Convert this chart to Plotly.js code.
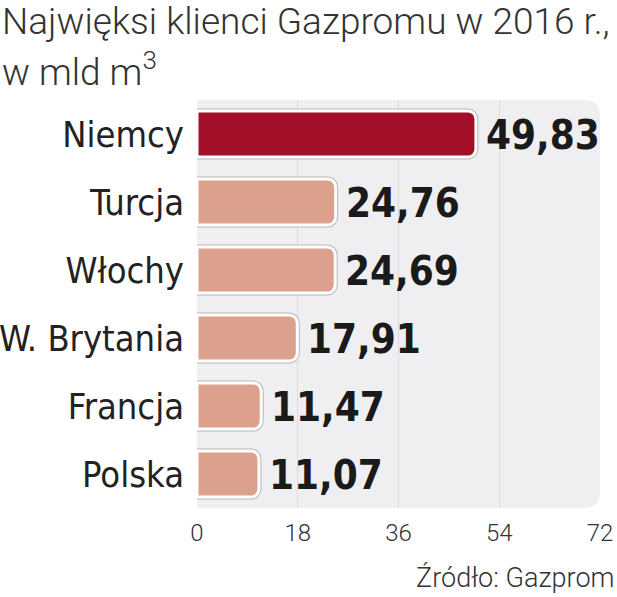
<!DOCTYPE html>
<html><head><meta charset="utf-8">
<script src="https://cdn.plot.ly/plotly-3.0.1.min.js"></script>
<style>body{margin:0;background:#fff}#c{width:617px;height:597px}</style>
</head><body><div id="c"></div>
<script>
const countries = ["Niemcy","Turcja","Włochy","W. Brytania","Francja","Polska"];
const volumes = [49.83,24.76,24.69,17.91,11.47,11.07];
const barColors = ["#a30f29","#dba18c","#dba18c","#dba18c","#dba18c","#dba18c"];
const tickVals = [0,18,36,54,72];

const shadow = {type:'bar',orientation:'h',y:countries,x:volumes,width:0.68,
  marker:{color:'rgba(0,0,0,0)',cornerradius:8,line:{color:'#b8b8bc',width:5}},hoverinfo:'skip'};
const bars = {type:'bar',orientation:'h',y:countries,x:volumes,width:0.68,
  marker:{color:barColors,cornerradius:8,line:{color:'#ffffff',width:3}},hoverinfo:'skip'};

const annotations = countries.map((c,i)=>({x:volumes[i],y:c,xref:'x',yref:'y',
  text:volumes[i].toFixed(2).replace('.',','),showarrow:false,xanchor:'left',xshift:8,yshift:-1,
  font:{family:'DejaVu Sans Condensed',size:40,color:'#1a1a1a',weight:700}}));
annotations.push({text:'Źródło: Gazprom',xref:'paper',yref:'paper',x:1.04,y:-0.215,xanchor:'right',yanchor:'bottom',
  showarrow:false,font:{family:'Roboto',size:27,color:'#333',weight:300}});
annotations.push({text:'Najwięksi klienci Gazpromu w 2016 r.,',xref:'paper',yref:'paper',x:-0.488,y:1.25,
  xanchor:'left',yanchor:'top',showarrow:false,font:{family:'Roboto',size:37,color:'#333',weight:300}});
annotations.push({text:'w mld m<sup>3</sup>',xref:'paper',yref:'paper',x:-0.488,y:1.14,
  xanchor:'left',yanchor:'top',showarrow:false,font:{family:'Roboto',size:37,color:'#333',weight:300}});

const rx = 0.04, ry = 0.04;
const bgPath = `M 0,0 L ${1-rx},0 Q 1,0 1,${ry} L 1,${1-ry} Q 1,1 ${1-rx},1 L 0,1 Z`;

Plotly.newPlot('c',[shadow,bars],{
  width:617,height:597,barmode:'overlay',showlegend:false,
  margin:{l:197,r:17,t:100,b:89},
  paper_bgcolor:'#ffffff',plot_bgcolor:'rgba(0,0,0,0)',
  shapes:[{type:'path',xref:'x domain',yref:'y domain',path:bgPath,fillcolor:'#efeff1',line:{width:0},layer:'below'}],
  xaxis:{range:[0,72],tickvals:tickVals,showgrid:true,gridcolor:'#dcdcdf',gridwidth:1,zeroline:false,
    showline:false,ticks:'',ticklabelstandoff:8,
    tickfont:{family:'Roboto',size:24,color:'#333',weight:300}},
  yaxis:{autorange:'reversed',showgrid:false,zeroline:false,ticks:'',ticklabelstandoff:12,
    tickfont:{family:'DejaVu Sans Condensed',size:36,color:'#222'}},
  annotations:annotations
},{staticPlot:true});
</script></body></html>
